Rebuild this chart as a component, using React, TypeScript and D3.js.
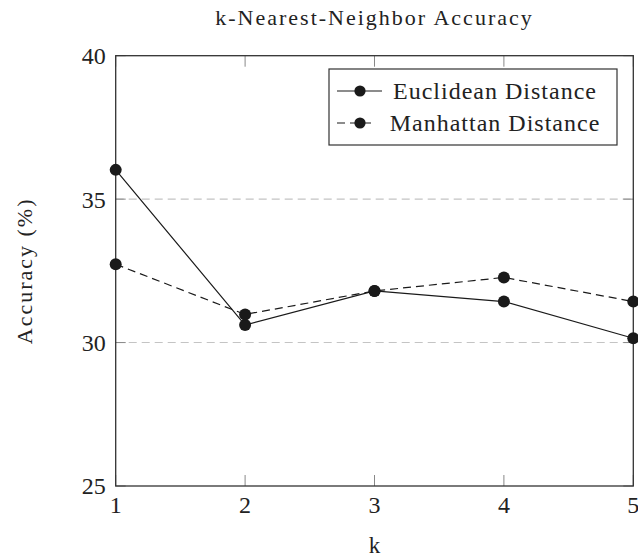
import React from "react";
import * as d3 from "d3";

// k values and accuracy (%) per distance metric
const ks = [1, 2, 3, 4, 5];
const euclidean = [36.02, 30.61, 31.8, 31.43, 30.15];
const manhattan = [32.73, 30.98, 31.8, 32.27, 31.43];
const yTicks = [25, 30, 35, 40];
const gridValues = [30, 35];
const seriesNames = ["Euclidean Distance", "Manhattan Distance"];

const W = 638;
const H = 558;
const margin = { top: 55.7, right: 4.7, bottom: 72, left: 115.7 };
const serif = "Liberation Serif, DejaVu Serif, Times, serif";

export default function App() {
  const x = d3.scaleLinear().domain([1, 5]).range([margin.left, W - margin.right]);
  const y = d3.scaleLinear().domain([25, 40]).range([H - margin.bottom, margin.top]);
  const x0 = x.range()[0], x1 = x.range()[1];
  const y0 = y.range()[0], y1 = y.range()[1];

  const line = d3.line<number>()
    .x((_, i) => x(ks[i]))
    .y((d) => y(d));

  const series = [
    { name: seriesNames[0], values: euclidean, dash: undefined },
    { name: seriesNames[1], values: manhattan, dash: "8,5" },
  ];

  // legend box
  const lg = { left: 329, top: 69, right: 617, bottom: 145 };
  const rowY = [91, 123];
  const textCx = 495;
  const ts = { fontFamily: serif };

  return (
    <svg width={W} height={H} style={{ position: "absolute", left: 0, top: 0, background: "#fff" }}>
      <style>{`body{margin:0} svg text{font-family:"Liberation Serif","DejaVu Serif",serif;}`}</style>
      <rect width={W} height={H} fill="#fff" />

      {/* title */}
      <text x={(x0 + x1) / 2} y={25} textAnchor="middle" style={ts}
        fontSize={22} letterSpacing={2} fill="#222">
        k-Nearest-Neighbor Accuracy
      </text>

      {/* gridlines */}
      {gridValues.map((v) => (
        <line key={"g" + v} x1={x0} x2={x1} y1={y(v)} y2={y(v)}
          stroke="#c4c4c4" strokeWidth={1.1} strokeDasharray="8,5" />
      ))}

      {/* ticks (inward, both sides) */}
      {ks.map((k) => (
        <g key={"xt" + k} stroke="#888" strokeWidth={1}>
          <line x1={x(k)} x2={x(k)} y1={y0} y2={y0 - 11} />
          <line x1={x(k)} x2={x(k)} y1={y1} y2={y1 + 11} />
        </g>
      ))}
      {yTicks.map((v) => (
        <g key={"yt" + v} stroke="#888" strokeWidth={1}>
          <line x1={x0} x2={x0 + 10} y1={y(v)} y2={y(v)} />
          <line x1={x1} x2={x1 - 10} y1={y(v)} y2={y(v)} />
        </g>
      ))}

      {/* frame */}
      <rect x={x0} y={y1} width={x1 - x0} height={y0 - y1} fill="none" stroke="#333" strokeWidth={1.3} />

      {/* tick labels */}
      {yTicks.map((v) => (
        <text key={"yl" + v} x={x0 - 10} y={y(v)} dy="0.35em" textAnchor="end"
          style={ts} fontSize={24} fill="#222">{v}</text>
      ))}
      {ks.map((k) => (
        <text key={"xl" + k} x={x(k)} y={513} textAnchor="middle"
          style={ts} fontSize={24} fill="#222">{k}</text>
      ))}

      {/* axis titles */}
      <text x={(x0 + x1) / 2} y={553} textAnchor="middle" style={ts} fontSize={23} fill="#222">k</text>
      <text transform={`translate(32,${(y0 + y1) / 2}) rotate(-90)`} textAnchor="middle"
        style={ts} fontSize={22} letterSpacing={2} fill="#222">Accuracy (%)</text>

      {/* series */}
      {series.map((s) => (
        <g key={s.name}>
          <path d={line(s.values) || ""} fill="none" stroke="#1a1a1a" strokeWidth={1.2}
            strokeDasharray={s.dash} />
          {s.values.map((v, i) => (
            <circle key={i} cx={x(ks[i])} cy={y(v)} r={6} fill="#1a1a1a" />
          ))}
        </g>
      ))}

      {/* legend */}
      <rect x={lg.left} y={lg.top} width={lg.right - lg.left} height={lg.bottom - lg.top}
        fill="#fff" stroke="#333" strokeWidth={1.2} />
      {series.map((s, i) => (
        <g key={"lg" + i}>
          <line x1={337} x2={s.dash ? 371 : 382} y1={rowY[i]} y2={rowY[i]}
            stroke="#1a1a1a" strokeWidth={1.2} strokeDasharray={s.dash} />
          <circle cx={360} cy={rowY[i]} r={5.6} fill="#1a1a1a" />
          <text x={textCx} y={rowY[i] + 7.5} textAnchor="middle" style={ts}
            fontSize={24} letterSpacing={1} fill="#222">{s.name}</text>
        </g>
      ))}
    </svg>
  );
}
